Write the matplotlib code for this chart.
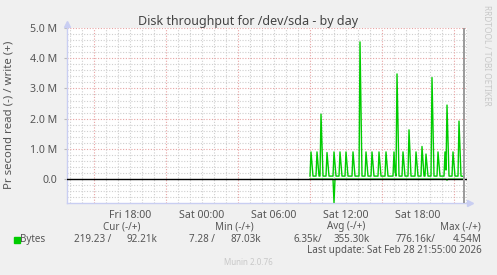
import matplotlib
matplotlib.use('Agg')
import matplotlib.pyplot as plt
import numpy as np

# ---------------- data (times are Saturday HH:MM, values in millions of bytes/s) -------------
write_times = ["09:00", "09:05", "09:15", "09:30", "09:35", "09:45", "09:50", "09:55", "10:05",
               "10:20", "10:25", "10:35", "10:55", "11:00", "11:10", "11:25", "11:30", "11:40",
               "11:55", "12:00", "12:10", "12:30", "12:35", "12:45", "13:05", "13:10", "13:20",
               "13:35", "13:40", "13:50", "14:05", "14:10", "14:20", "14:40", "14:45", "14:55",
               "15:15", "15:20", "15:30", "15:55", "16:00", "16:05", "16:10", "16:15", "16:25",
               "16:40", "16:45", "16:55", "17:10", "17:15", "17:25", "17:45", "17:50", "18:00",
               "18:15", "18:20", "18:30", "18:35", "18:40", "18:50", "19:05", "19:10", "19:20",
               "19:35", "19:40", "19:50", "20:10", "20:15", "20:20", "20:25", "20:35", "20:50",
               "20:55", "21:05", "21:20", "21:25", "21:35", "21:50"]
write_vals = [0.10, 0.90, 0.10, 0.10, 0.90, 0.10, 0.10, 2.15, 0.10,
              0.10, 0.88, 0.10, 0.10, 0.90, 0.10, 0.10, 0.90, 0.10,
              0.10, 0.90, 0.10, 0.10, 0.90, 0.10, 0.10, 4.54, 0.10,
              0.10, 0.90, 0.10, 0.10, 0.90, 0.10, 0.10, 0.90, 0.10,
              0.10, 0.90, 0.10, 0.10, 0.90, 0.25, 0.10, 3.48, 0.10,
              0.10, 0.90, 0.10, 0.10, 1.63, 0.10, 0.10, 0.90, 0.10,
              0.10, 1.08, 0.10, 0.10, 0.83, 0.10, 0.10, 3.36, 0.10,
              0.10, 0.90, 0.10, 0.10, 0.90, 0.30, 2.45, 0.10, 0.10,
              0.90, 0.10, 0.10, 1.92, 0.10, 0.09]

read_times = ["09:00", "10:55", "11:00", "11:05", "20:20", "20:25", "20:30", "21:50"]
read_vals = [0.0, 0.0, 0.776, 0.0, 0.0, 0.03, 0.0, 0.0]

x_tick_hours = [-6, 0, 6, 12, 18]
x_tick_labels = ["Fri 18:00", "Sat 00:00", "Sat 06:00", "Sat 12:00", "Sat 18:00"]
y_tick_vals = [0, 1, 2, 3, 4, 5]
y_tick_labels = ["0.0", "1.0 M", "2.0 M", "3.0 M", "4.0 M", "5.0 M"]

legend_headers = ["Cur (-/+)", "Min (-/+)", "Avg (-/+)", "Max (-/+)"]
legend_read = ["219.23 /", "7.28 /", "6.35k/", "776.16k/"]
legend_write = ["92.21k", "87.03k", "355.30k", "4.54M"]
series_name = "Bytes"
title = "Disk throughput for /dev/sda - by day"
ylabel = "Pr second read (-) / write (+)"
last_update = "Last update: Sat Feb 28 21:55:00 2026"
footer = "Munin 2.0.76"
side_text = "RRDTOOL / TOBI OETIKER"


def to_hours(s):
    h, m = s.split(":")
    return int(h) + int(m) / 60.0


wt = [to_hours(s) for s in write_times]
rt = [to_hours(s) for s in read_times]

plt.rcParams['font.family'] = ['Noto Sans', 'DejaVu Sans']

# ---------------- figure ----------------
W, H = 497, 275
fig = plt.figure(figsize=(W / 100, H / 100), dpi=100, facecolor='#F0F0F0')
L, R, T, B = 67, 467, 28, 203
ax = fig.add_axes([L / W, 1 - B / H, (R - L) / W, (B - T) / H])
ax.set_facecolor('white')
xmin, xmax = -11.25, 22.083
ymin, ymax = -0.79, 5.0
ax.set_xlim(xmin, xmax)
ax.set_ylim(ymin, ymax)

minor_col = '#CFCFCF'
major_col = '#E7A3A3'
dots = (0, (1, 1.5))

# horizontal grid
for yv in np.arange(-0.6, 5.01, 0.2):
    yv = round(yv, 1)
    if abs(yv - round(yv)) < 1e-6:
        continue
    ax.axhline(yv, color=minor_col, lw=0.8, ls=dots, zorder=1)
for yv in [1, 2, 3, 4, 5]:
    ax.axhline(yv, color=major_col, lw=0.8, ls=dots, zorder=1.5)
# vertical grid
for xv in np.arange(-11, 23, 1):
    if (xv - 3) % 6 == 0:
        ax.axvline(xv, color=major_col, lw=0.8, ls=dots, zorder=1.5)
    else:
        ax.axvline(xv, color=minor_col, lw=0.8, ls=dots, zorder=1)

green = '#00CC00'
ax.plot(rt, [-v for v in read_vals], color=green, lw=1.0, zorder=3)
ax.plot(wt, write_vals, color=green, lw=1.0, zorder=3)
ax.axhline(0, color='black', lw=1.0, zorder=4)
ax.axvline(21.85, color='#9A9A9A', lw=1.4, zorder=4)

# axes styling
for s in ['top', 'right']:
    ax.spines[s].set_visible(False)
axis_col = '#C9CEF2'
ax.spines['left'].set_color(axis_col)
ax.spines['bottom'].set_color(axis_col)
ax.spines['left'].set_linewidth(1.0)
ax.spines['bottom'].set_linewidth(1.0)
ax.plot([xmin], [ymax + 0.12], marker='^', color=axis_col, ms=4, clip_on=False, zorder=5)
ax.plot([xmax + 0.25], [ymin], marker='>', color=axis_col, ms=4, clip_on=False, zorder=5)

ax.set_yticks(y_tick_vals)
ax.set_yticklabels(y_tick_labels)
ax.set_xticks(x_tick_hours)
ax.set_xticklabels(x_tick_labels)
ax.tick_params(axis='y', length=2, color='#BBBBBB', pad=5, labelsize=7.6, labelcolor='#555555')
ax.tick_params(axis='x', length=0, pad=5, labelsize=7.6, labelcolor='#555555')

# texts
fs = 7.1
tc = '#444444'
fig.text(248.5 / W, 1 - 21 / H, title, ha='center', va='center', fontsize=9.0, color=tc)
fig.text(9 / W, 1 - 115 / H, ylabel, ha='center', va='center', rotation=90, fontsize=8.2, color='#555555')
fig.text(487 / W, 1 - 5 / H, side_text, ha='center', va='top', rotation=270, fontsize=6.0, color='#C8C8C8')

header_cx = [122, 234, 346, 460]
for cx, t in zip(header_cx, legend_headers):
    fig.text(cx / W, 1 - 227 / H, t, ha='center', va='center', fontsize=fs, color='#555555')

fig.patches.append(plt.Rectangle((14 / W, 1 - 242.5 / H), 5.5 / W, 5.5 / H, transform=fig.transFigure,
                                 color=green))
fig.text(20 / W, 1 - 239.5 / H, series_name, ha='left', va='center', fontsize=fs, color='#555555')
read_rx = [111, 215, 322, 435]
write_rx = [157, 261, 370, 482]
for rx, t in zip(read_rx, legend_read):
    fig.text(rx / W, 1 - 239.5 / H, t, ha='right', va='center', fontsize=fs, color='#555555')
for rx, t in zip(write_rx, legend_write):
    fig.text(rx / W, 1 - 239.5 / H, t, ha='right', va='center', fontsize=fs, color='#555555')
fig.text(482 / W, 1 - 251 / H, last_update, ha='right', va='center', fontsize=fs, color='#555555')
fig.text(248.5 / W, 1 - 262.5 / H, footer, ha='center', va='center', fontsize=5.8, color='#C8C8C8')

fig.savefig('out.png', dpi=100, facecolor=fig.get_facecolor())
